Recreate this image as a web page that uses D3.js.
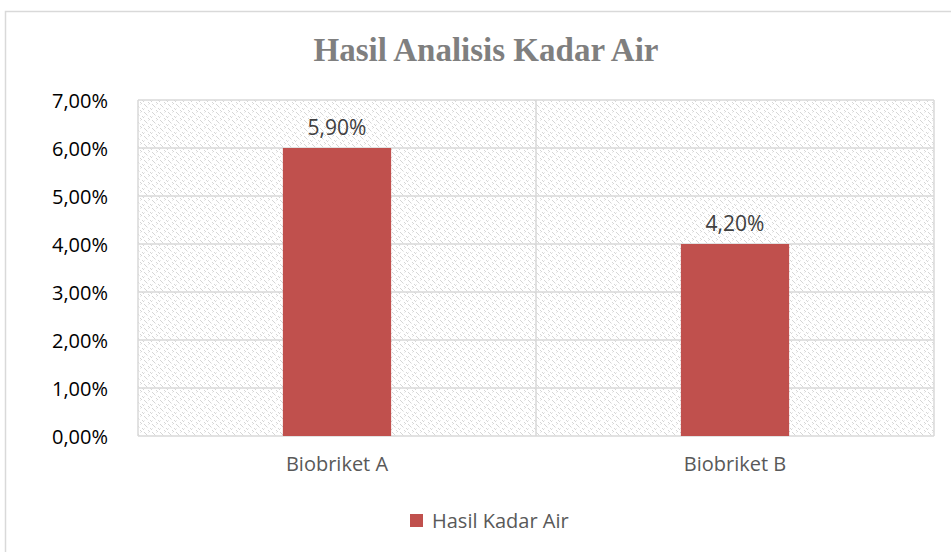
<!DOCTYPE html>
<html><head><meta charset="utf-8">
<script src="https://cdn.jsdelivr.net/npm/d3@7"></script>
<style>body{margin:0;background:#fff;}svg{display:block;}</style>
</head><body>
<script>
const categories = ["Biobriket A", "Biobriket B"];
const values = [6.0, 4.0];
const valueLabels = ["5,90%", "4,20%"];
const tickValues = [0, 1, 2, 3, 4, 5, 6, 7];
const seriesName = "Hasil Kadar Air";
const title = "Hasil Analisis Kadar Air";

const W = 951, H = 552;
const FONT = "Open Sans, Liberation Sans, Arial, sans-serif";
const svg = d3.select("body").append("svg").attr("width", W).attr("height", H);

const defs = svg.append("defs");
const pat = defs.append("pattern").attr("id", "hatch").attr("patternUnits", "userSpaceOnUse")
  .attr("width", 8).attr("height", 8);
pat.append("rect").attr("width", 8).attr("height", 8).attr("fill", "#fff");
[[0,0],[1,1],[2,2],[4,6],[5,7],[6,4],[7,5]].forEach(([px,py]) => {
  pat.append("rect").attr("x", px).attr("y", py).attr("width", 1).attr("height", 1).attr("fill", "#d6d6d6");
});
[[3,3],[0,4],[4,0]].forEach(([px,py]) => {
  pat.append("rect").attr("x", px).attr("y", py).attr("width", 1).attr("height", 1).attr("fill", "#eaeaea");
});

// outer chart border
svg.append("rect").attr("x", 5.5).attr("y", 11.5).attr("width", 960).attr("height", 560)
  .attr("fill", "#fff").attr("stroke", "#d9d9d9").attr("stroke-width", 1.5);

const L = 138, R = 934, T = 100, B = 436;
const x = d3.scaleBand().domain(categories).range([L, R]).padding(0);
const y = d3.scaleLinear().domain([0, 7]).range([B, T]);

// plot area
svg.append("rect").attr("x", L).attr("y", T).attr("width", R - L).attr("height", B - T)
  .attr("fill", "url(#hatch)");

const grid = svg.append("g");
grid.selectAll("line.h").data(tickValues).join("line")
  .attr("x1", L).attr("x2", R).attr("y1", d => y(d)).attr("y2", d => y(d))
  .attr("stroke", "#d9d9d9").attr("stroke-width", 1.5);
const vlines = [L, ...categories.map(c => x(c) + x.bandwidth())];
grid.selectAll("line.v").data(vlines).join("line")
  .attr("x1", d => d).attr("x2", d => d).attr("y1", T).attr("y2", B)
  .attr("stroke", "#d9d9d9").attr("stroke-width", 1.5);

// y axis
const yAxis = d3.axisLeft(y).tickValues(tickValues).tickSize(0).tickPadding(0)
  .tickFormat(d => d3.format(".2f")(d).replace(".", ",") + "%");
const ya = svg.append("g").attr("transform", `translate(108,0)`).call(yAxis);
ya.select(".domain").remove();
ya.selectAll("text").attr("font-family", FONT)
  .attr("font-size", 20).attr("fill", "#000").attr("dy", "0.35em");

// x axis
const xAxis = d3.axisBottom(x).tickSize(0).tickPadding(0);
const xa = svg.append("g").attr("transform", `translate(0,${B + 21})`).call(xAxis);
xa.select(".domain").remove();
xa.selectAll("text").attr("font-family", FONT)
  .attr("font-size", 20).attr("fill", "#595959").attr("dy", "0.71em");

// bars
const barFrac = 0.272;
const bw = x.bandwidth() * barFrac;
svg.selectAll("rect.bar").data(values).join("rect").attr("class", "bar")
  .attr("x", (d, i) => x(categories[i]) + (x.bandwidth() - bw) / 2)
  .attr("width", bw)
  .attr("y", d => y(d)).attr("height", d => y(0) - y(d))
  .attr("fill", "#c0504d");

// data labels
svg.selectAll("text.lbl").data(values).join("text")
  .attr("x", (d, i) => x(categories[i]) + x.bandwidth() / 2)
  .attr("y", d => y(d) - 13)
  .attr("text-anchor", "middle")
  .attr("font-family", FONT).attr("font-size", 21)
  .attr("fill", "#404040")
  .text((d, i) => valueLabels[i]);

// title
svg.append("text").attr("x", 486).attr("y", 61).attr("text-anchor", "middle")
  .attr("font-family", "Liberation Serif, Times New Roman, serif").attr("font-weight", "bold")
  .attr("font-size", 33).attr("fill", "#7f7f7f").text(title);

// legend
svg.append("rect").attr("x", 410).attr("y", 514).attr("width", 13).attr("height", 13).attr("fill", "#c0504d");
svg.append("text").attr("x", 432).attr("y", 528).attr("font-family", FONT)
  .attr("font-size", 20).attr("fill", "#595959").text(seriesName);
</script>
</body></html>
